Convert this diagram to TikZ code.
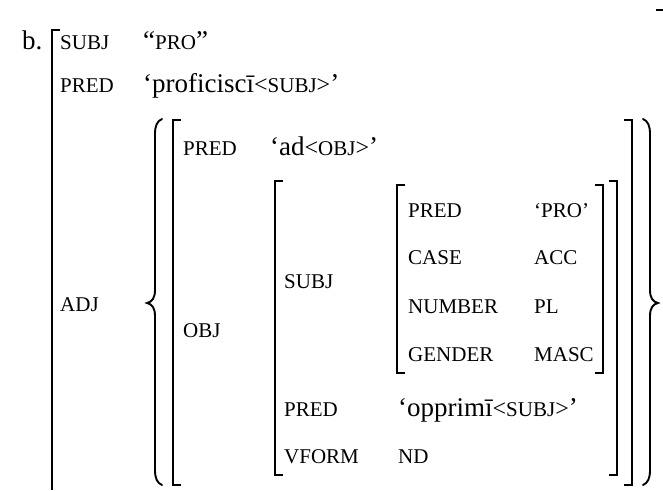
\documentclass[tikz,border=0pt]{standalone}
\usepackage{fontspec}
\setmainfont{Liberation Serif}
\begin{document}
\begin{tikzpicture}[x=1pt,y=-1pt]
\tikzset{
  lbl/.style={anchor=base west, inner sep=0pt, font=\fontsize{21}{24}\selectfont},
  val/.style={anchor=base west, inner sep=0pt, font=\fontsize{27}{30}\selectfont},
  brk/.style={line width=1.6pt},
  brc/.style={line width=1.9pt, line cap=round},
}
\newcommand\lt{{\fontsize{24}{26}\selectfont<}}
\newcommand\gt{{\fontsize{24}{26}\selectfont>}}
\newcommand\sml[1]{{\fontsize{21}{24}\selectfont #1}}
\useasboundingbox (0,0) rectangle (663,490);
% outer structure
\node[val] (b) at (22,49) {b.};
\draw[brk] (60,30) -- (52,30) -- (52,490);
\draw[brk] (656,10) -- (663,10);
\node[lbl] (subj1) at (60,49) {SUBJ};
\node[val] (pro1) at (143,49) {“\sml{PRO}”};
\node[lbl] (pred1) at (60,92) {PRED};
\node[val] (pv1) at (143,92) {‘proficiscī\lt\sml{SUBJ}\gt’};
\node[lbl] (adj) at (60,311) {ADJ};
% braces
\draw[brc] (162,119) .. controls (157,121) and (155,126) .. (155,134) -- (155,290)
  .. controls (155,298) and (152,302) .. (147,303)
  .. controls (152,304) and (155,308) .. (155,316) -- (155,470)
  .. controls (155,478) and (157,483) .. (162,485);
\draw[brc] (643,119) .. controls (648,121) and (650,126) .. (650,134) -- (650,290)
  .. controls (650,298) and (653,302) .. (658,303)
  .. controls (653,304) and (650,308) .. (650,316) -- (650,470)
  .. controls (650,478) and (648,483) .. (643,485);
% adjunct f-structure
\draw[brk] (181,120) -- (173,120) -- (173,485) -- (181,485);
\draw[brk] (624,120) -- (632,120) -- (632,485) -- (624,485);
\node[lbl] (pred2) at (183,155) {PRED};
\node[val] (pv2) at (270,155) {‘ad\lt\sml{OBJ}\gt’};
\node[lbl] (obj) at (183,337) {OBJ};
% obj f-structure
\draw[brk] (283,181) -- (275,181) -- (275,475) -- (283,475);
\draw[brk] (609,181) -- (617,181) -- (617,475) -- (609,475);
\node[lbl] (subj2) at (284,288) {SUBJ};
\node[lbl] (pred3) at (284,416) {PRED};
\node[val] (pv3) at (398,416) {‘opprimī\lt\sml{SUBJ}\gt’};
\node[lbl] (vform) at (284,463) {VFORM};
\node[lbl] (nd) at (398,463) {ND};
% inner subj f-structure
\draw[brk] (405,185) -- (397,185) -- (397,373) -- (405,373);
\draw[brk] (595,185) -- (603,185) -- (603,373) -- (595,373);
\node[lbl] (pred4) at (408,217) {PRED};
\node[lbl] (pv4) at (534,217) {‘PRO’};
\node[lbl] (case) at (408,264) {CASE};
\node[lbl] (acc) at (534,264) {ACC};
\node[lbl] (num) at (408,313) {NUMBER};
\node[lbl] (pl) at (534,313) {PL};
\node[lbl] (gend) at (408,361) {GENDER};
\node[lbl] (masc) at (534,361) {MASC};
\end{tikzpicture}
\end{document}
